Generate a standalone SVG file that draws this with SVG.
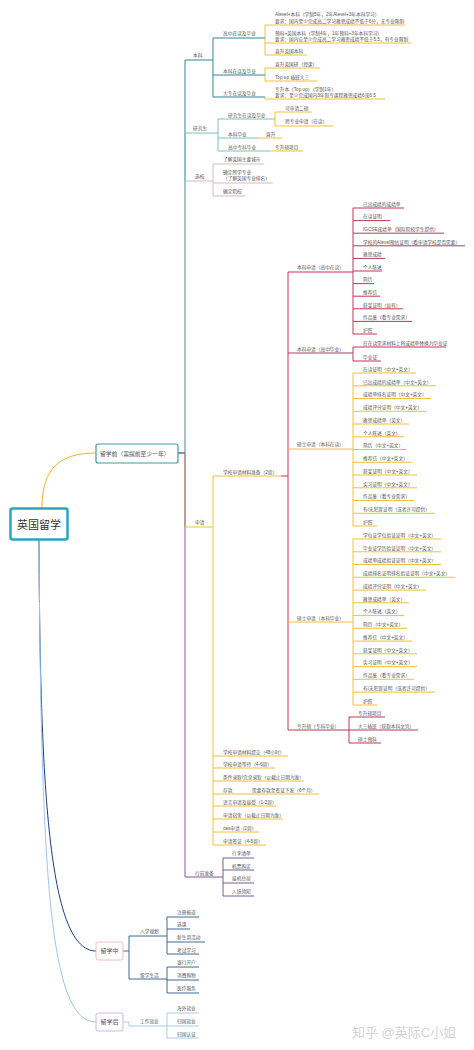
<svg xmlns="http://www.w3.org/2000/svg" width="474" height="1050" viewBox="0 0 474 1050">
<style>
text{font-family:"Liberation Sans","Noto Sans CJK SC",sans-serif}
.t{font-size:4.7px;fill:#555}
.u,.c{fill:none;stroke-width:1}
.teal{stroke:#2b879c}.lt{stroke:#76c3c3}.pk{stroke:#d6b9c0}.ye{stroke:#f1c232}.rd{stroke:#c2375a}.pu{stroke:#7a5c92}.sb{stroke:#3f6b90}.lb{stroke:#a9cbeb}
</style>
<rect width="474" height="1050" fill="#fff"/>
<g id="connectors">
<path class="c" stroke="#1b3e78" stroke-width="2" d="M39,540C40,800 50,951 96,951"/>
<path class="c" stroke="#9cc6ee" stroke-width="2" d="M39,540C41,880 50,1022 96,1022"/>
<path class="c" stroke="#f0b429" stroke-width="2" d="M42,508C42,470 58,453 96,453"/>
<path class="c teal" stroke-width="1.2" d="M178,453H185V60"/>
<path class="c lt" stroke-width="1.2" d="M185,453V133"/>
<path class="c pk" stroke-width="1.2" d="M185,453V181"/>
<path class="c ye" stroke-width="1.2" d="M185,453V527"/>
<path class="c pu" stroke-width="1.2" d="M178,453H185V877"/>
<path class="c teal" d="M213,38V97"/>
<path class="c ye" d="M265,25V55M265,68V81M265,97V99"/>
<path class="c lt" d="M218,119V151"/>
<path class="c ye" d="M275,112V126"/>
<path class="c pk" d="M213,164V196"/>
<path class="c ye" d="M213,476V845"/>
<path class="c rd" d="M281,476H288M288,272V730"/>
<path class="c rd" d="M353,208V334M353,347V361M349,717V743"/>
<path class="c ye" d="M353,373V526M353,539V705"/>
<path class="c pu" d="M223,858V896"/>
<path class="c sb" d="M123,951H129M129,936V979M167,917V954M167,967V993"/>
<path class="c lb" d="M123,1022H129V1026M167,1013V1038"/>
</g>
<g id="root"><rect x="10.5" y="508.5" width="57" height="31" rx="2" fill="#fff" stroke="#2ea2c4" stroke-width="2.5"/><text x="39" y="529" text-anchor="middle" font-size="11" fill="#333">英国留学</text></g>
<g id="before"><rect x="96" y="444" width="82" height="19" rx="2" fill="#fff" stroke="#3f9aa5" stroke-width="1.2"/><text x="100" y="455.6" font-size="5.8" fill="#555">留学前（需提前至少一年）</text></g>
<g id="during"><rect x="96" y="942" width="27" height="18" rx="2" fill="#fff" stroke="#f0c0c0" stroke-width="1"/><text x="109.5" y="953" text-anchor="middle" font-size="6" fill="#555">留学中</text></g>
<g id="after"><rect x="96" y="1013" width="27" height="18" rx="2" fill="#fff" stroke="#d2b6e6" stroke-width="1"/><text x="109.5" y="1024" text-anchor="middle" font-size="6" fill="#555">留学后</text></g>

<g id="benke"><text class="t" x="193" y="56.7">本科</text><path class="u teal" d="M185,60H213"/></g>
<g id="gaozhong"><text class="t" x="223" y="34.7">高中在读及毕业</text><path class="u teal" d="M213,38H265"/></g>
<g id="benke-zaidu"><text class="t" x="223" y="72.7">本科在读及毕业</text><path class="u teal" d="M213,75H265"/></g>
<g id="dazhuan"><text class="t" x="223" y="94.7">大专在读及毕业</text><path class="u teal" d="M213,97H265"/></g>
<g id="alevel"><text class="t" x="275" y="15.7">Alevel+本科（学制5年，2年Alevel+3年本科学习）</text><text class="t" x="275" y="22.5">要求：国内至少完成高二学习雅思成绩不低于6分，无专业限制</text><path class="u ye" d="M265,25H405"/></g>
<g id="yuke"><text class="t" x="275" y="34.7">预科+英国本科（学制4年，1年预科+3年本科学习）</text><text class="t" x="275" y="40.9">要求：国内应至少完成高二学习雅思成绩不低于5.5，有专业限制</text><path class="u ye" d="M265,43H411"/></g>
<g id="zhisheng-bk"><text class="t" x="275" y="52.7">直升英国本科</text><path class="u ye" d="M265,55H307"/></g>
<g id="zhisheng-yan"><text class="t" x="275" y="65.7">直升英国研（授课）</text><path class="u ye" d="M265,68H320"/></g>
<g id="topup"><text class="t" x="275" y="78.7">Top up 插班大三</text><path class="u ye" d="M265,81H317"/></g>
<g id="zhuanshengben"><text class="t" x="275" y="90.7">专升本（Top up）（学制1年）</text><text class="t" x="275" y="96.5">要求：至少完成国内3年制专课程雅思成绩6或6.5</text><path class="u ye" d="M265,99H385"/></g>

<g id="yanjiusheng"><text class="t" x="193" y="129.7">研究生</text><path class="u lt" d="M185,133H218"/></g>
<g id="yjs-zaidu"><text class="t" x="228" y="116.7">研究生在读及毕业</text><path class="u lt" d="M218,119H275"/></g>
<g id="ershuo"><text class="t" x="285" y="110.2">可申请二硕</text><path class="u ye" d="M275,112H312"/></g>
<g id="kuazhuanye"><text class="t" x="285" y="123.2">跨专业申请（在读）</text><path class="u ye" d="M275,126H333"/></g>
<g id="bk-biye"><text class="t" x="228" y="135.7">本科毕业</text><path class="u lt" d="M218,138H258"/></g>
<g id="zhisheng"><text class="t" x="266" y="135.7">直升</text><path class="u ye" d="M258,138H282"/></g>
<g id="gz-zk"><text class="t" x="228" y="148.7">高中专科毕业</text><path class="u lt" d="M218,151H270"/></g>
<g id="zss-xm"><text class="t" x="275" y="148.7">专升硕项目</text><path class="u ye" d="M270,151H303"/></g>

<g id="xuanxiao"><text class="t" x="195" y="177.7">选校</text><path class="u pk" d="M185,181H213"/></g>
<g id="chengshi"><text class="t" x="223" y="161.2">了解英国主要城市</text><path class="u pk" d="M213,164H264"/></g>
<g id="zhuanye"><text class="t" x="223" y="173.7">确定所学专业</text><text class="t" x="223" y="179.7">（了解英国专业排名）</text><path class="u pk" d="M213,183H273"/></g>
<g id="yuanxiao"><text class="t" x="223" y="192.7">确定院校</text><path class="u pk" d="M213,196H245"/></g>

<g id="shenqing"><text class="t" x="195" y="523.7">申请</text><path class="u ye" d="M185,527H213"/></g>
<g id="cailiao"><text class="t" x="223" y="473.7">学校申请材料准备（2周）</text><path class="u ye" d="M213,476H281"/></g>

<g id="bk-gzzd"><text class="t" x="297" y="269.2">本科申请（高中在读）</text><path class="u rd" d="M288,272H353"/></g>
<g id="a1"><text class="t" x="363" y="205.7">已出成绩的成绩单</text><path class="u rd" d="M353,208H404"/></g>
<g id="a2"><text class="t" x="363" y="218.3">在读证明</text><path class="u rd" d="M353,220.6H390"/></g>
<g id="a3"><text class="t" x="363" y="230.9">IGCSE成绩单（国际院校学生提供）</text><path class="u rd" d="M353,233.2H444"/></g>
<g id="a4"><text class="t" x="363" y="243.5">学校的Alevel预估证明（看申请学校是否需要）</text><path class="u rd" d="M353,245.8H465"/></g>
<g id="a5"><text class="t" x="363" y="256.1">雅思成绩</text><path class="u rd" d="M353,258.4H385"/></g>
<g id="a6"><text class="t" x="363" y="268.7">个人陈述</text><path class="u rd" d="M353,271H382"/></g>
<g id="a7"><text class="t" x="363" y="281.3">简历</text><path class="u rd" d="M353,283.6H374"/></g>
<g id="a8"><text class="t" x="363" y="293.9">推荐信</text><path class="u rd" d="M353,296.2H380"/></g>
<g id="a9"><text class="t" x="363" y="306.5">获奖证明（如有）</text><path class="u rd" d="M353,308.8H403"/></g>
<g id="a10"><text class="t" x="363" y="319.1">作品集（看专业需求）</text><path class="u rd" d="M353,321.4H412"/></g>
<g id="a11"><text class="t" x="363" y="331.7">护照</text><path class="u rd" d="M353,334H377"/></g>

<g id="bk-gzby"><text class="t" x="297" y="351.2">本科申请（高中毕业）</text><path class="u rd" d="M288,353H353"/></g>
<g id="b1"><text class="t" x="363" y="344.7">在在读需求材料上将成绩单替换为毕业证</text><path class="u rd" d="M353,347H446"/></g>
<g id="b2"><text class="t" x="363" y="358.7">毕业证</text><path class="u rd" d="M353,361H381"/></g>

<g id="ss-zd"><text class="t" x="297" y="445.7">硕士申请（本科在读）</text><path class="u ye" d="M288,449H353"/></g>
<g id="c1"><text class="t" x="363" y="370.7">在读证明（中文+英文）</text><path class="u ye" d="M353,373H416"/></g>
<g id="c2"><text class="t" x="363" y="383.5">已出成绩的成绩单（中文+英文）</text><path class="u ye" d="M353,385.8H436"/></g>
<g id="c3"><text class="t" x="363" y="396.2">成绩单排名证明（中文+英文）</text><path class="u ye" d="M353,398.5H431"/></g>
<g id="c4"><text class="t" x="363" y="409">成绩评分证明（中文+英文）</text><path class="u ye" d="M353,411.3H426"/></g>
<g id="c5"><text class="t" x="363" y="421.7">雅思成绩单（英文）</text><path class="u ye" d="M353,424H409"/></g>
<g id="c6"><text class="t" x="363" y="434.5">个人陈述（英文）</text><path class="u ye" d="M353,436.8H404"/></g>
<g id="c7"><text class="t" x="363" y="447.2">简历（中文+英文）</text><path class="u ye" d="M353,449.5H407"/></g>
<g id="c8"><text class="t" x="363" y="460">推荐信（中文+英文）</text><path class="u ye" d="M353,462.3H412"/></g>
<g id="c9"><text class="t" x="363" y="472.7">获奖证明（中文+英文）</text><path class="u ye" d="M353,475H417"/></g>
<g id="c10"><text class="t" x="363" y="485.5">实习证明（中文+英文）</text><path class="u ye" d="M353,487.8H417"/></g>
<g id="c11"><text class="t" x="363" y="498.2">作品集（看专业需求）</text><path class="u ye" d="M353,500.5H414"/></g>
<g id="c12"><text class="t" x="363" y="511">有/无犯罪证明（或者许可提供）</text><path class="u ye" d="M353,513.3H435"/></g>
<g id="c13"><text class="t" x="363" y="523.7">护照</text><path class="u ye" d="M353,526H377"/></g>

<g id="ss-by"><text class="t" x="297" y="619.7">硕士申请（本科毕业）</text><path class="u ye" d="M288,622H353"/></g>
<g id="d1"><text class="t" x="363" y="536.7">学位证学位验证证明（中文+英文）</text><path class="u ye" d="M353,539H441"/></g>
<g id="d2"><text class="t" x="363" y="549.5">毕业证学历验证证明（中文+英文）</text><path class="u ye" d="M353,551.8H441"/></g>
<g id="d3"><text class="t" x="363" y="562.2">成绩单成绩验证证明（中文+英文）</text><path class="u ye" d="M353,564.5H441"/></g>
<g id="d4"><text class="t" x="363" y="575">成绩排名证明排名验证证明（中文+英文）</text><path class="u ye" d="M353,577.3H455"/></g>
<g id="d5"><text class="t" x="363" y="587.8">成绩评分证明（中文+英文）</text><path class="u ye" d="M353,590.1H426"/></g>
<g id="d6"><text class="t" x="363" y="600.5">雅思成绩单（英文）</text><path class="u ye" d="M353,602.8H409"/></g>
<g id="d7"><text class="t" x="363" y="613.3">个人陈述（英文）</text><path class="u ye" d="M353,615.6H404"/></g>
<g id="d8"><text class="t" x="363" y="626">简历（中文+英文）</text><path class="u ye" d="M353,628.3H407"/></g>
<g id="d9"><text class="t" x="363" y="638.8">推荐信（中文+英文）</text><path class="u ye" d="M353,641.1H412"/></g>
<g id="d10"><text class="t" x="363" y="651.5">获奖证明（中文+英文）</text><path class="u ye" d="M353,653.8H417"/></g>
<g id="d11"><text class="t" x="363" y="664.3">实习证明（中文+英文）</text><path class="u ye" d="M353,666.6H417"/></g>
<g id="d12"><text class="t" x="363" y="677">作品集（看专业需求）</text><path class="u ye" d="M353,679.3H414"/></g>
<g id="d13"><text class="t" x="363" y="689.8">有/无犯罪证明（或者许可提供）</text><path class="u ye" d="M353,692.1H435"/></g>
<g id="d14"><text class="t" x="363" y="702.7">护照</text><path class="u ye" d="M353,705H377"/></g>

<g id="zss"><text class="t" x="297" y="727.7">专升硕（专科毕业）</text><path class="u rd" d="M288,730H349"/></g>
<g id="e1"><text class="t" x="358" y="714.7">专升硕项目</text><path class="u rd" d="M349,717H385"/></g>
<g id="e2"><text class="t" x="358" y="727.7">大三插班（获取本科文凭）</text><path class="u rd" d="M349,730H418"/></g>
<g id="e3"><text class="t" x="358" y="740.7">硕士预科</text><path class="u rd" d="M349,743H381"/></g>

<g id="tijiao"><text class="t" x="223" y="753.7">学校申请材料提交（48小时）</text><path class="u ye" d="M213,756H288"/></g>
<g id="dengdai"><text class="t" x="223" y="765.7">学校申请等待（4-6周）</text><path class="u ye" d="M213,768H275"/></g>
<g id="luqu"><text class="t" x="223" y="778.7">条件录取/完全录取（以截止日期为准）</text><path class="u ye" d="M213,781H304"/></g>
<g id="cunkuan"><text class="t" x="223" y="791.7">存款</text><path class="u ye" d="M213,794H245"/></g>
<g id="cunkuan-1"><text class="t" x="252" y="791.7">需要存款至签证下发（6个月）</text><path class="u ye" d="M245,794H319"/></g>
<g id="yuyan"><text class="t" x="223" y="803.7">语言申请及接受（1-2周）</text><path class="u ye" d="M213,806H276"/></g>
<g id="sushe"><text class="t" x="223" y="816.7">申请宿舍（以截止日期为准）</text><path class="u ye" d="M213,819H283"/></g>
<g id="cas"><text class="t" x="223" y="829.7">cas申请（2周）</text><path class="u ye" d="M213,832H259"/></g>
<g id="qianzheng"><text class="t" x="223" y="842.7">申请签证（4-5周）</text><path class="u ye" d="M213,845H266"/></g>

<g id="xingqian"><text class="t" x="195" y="874.7">行前准备</text><path class="u pu" d="M185,877H223"/></g>
<g id="f1"><text class="t" x="232" y="855.2">行李清单</text><path class="u pu" d="M223,858H254"/></g>
<g id="f2"><text class="t" x="232" y="867.7">机票购买</text><path class="u pu" d="M223,870H254"/></g>
<g id="f3"><text class="t" x="232" y="880.2">接机住宿</text><path class="u pu" d="M223,883H254"/></g>
<g id="f4"><text class="t" x="232" y="893.2">入境须知</text><path class="u pu" d="M223,896H254"/></g>

<g id="ruxue"><text class="t" x="140" y="933.2">入学规划</text><path class="u sb" d="M129,936H167"/></g>
<g id="g1"><text class="t" x="177" y="914.2">注册报道</text><path class="u sb" d="M167,917H199"/></g>
<g id="g2"><text class="t" x="177" y="926.2">选课</text><path class="u sb" d="M167,929H190"/></g>
<g id="g3"><text class="t" x="177" y="939.2">新生周活动</text><path class="u sb" d="M167,942H205"/></g>
<g id="g4"><text class="t" x="177" y="951.7">考试学习</text><path class="u sb" d="M167,954H199"/></g>
<g id="shenghuo"><text class="t" x="140" y="976.7">留学生活</text><path class="u sb" d="M129,979H167"/></g>
<g id="h1"><text class="t" x="177" y="964.2">银行开户</text><path class="u sb" d="M167,967H199"/></g>
<g id="h2"><text class="t" x="177" y="977.2">消费购物</text><path class="u sb" d="M167,980H199"/></g>
<g id="h3"><text class="t" x="177" y="990.2">医疗服务</text><path class="u sb" d="M167,993H199"/></g>

<g id="jiuye"><text class="t" x="140" y="1023.2">工作就业</text><path class="u lb" d="M129,1026H167"/></g>
<g id="k1"><text class="t" x="177" y="1010.2">海外就业</text><path class="u lb" d="M167,1013H199"/></g>
<g id="k2"><text class="t" x="177" y="1023.2">归国就业</text><path class="u lb" d="M167,1026H199"/></g>
<g id="k3"><text class="t" x="177" y="1035.7">归国认证</text><path class="u lb" d="M167,1038H199"/></g>

<text x="352" y="1037" font-size="13" fill="#d4d4d4" font-family="'Noto Sans CJK SC',sans-serif">知乎 @英际C小姐</text>
</svg>
